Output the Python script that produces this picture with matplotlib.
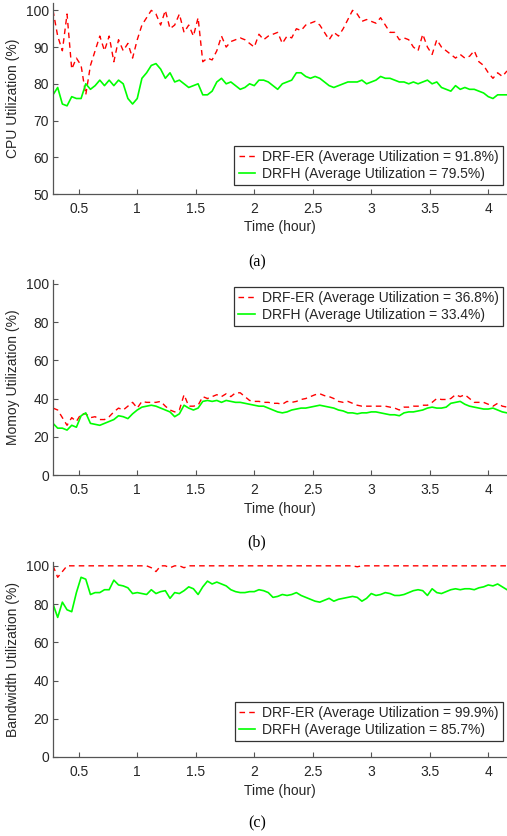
import numpy as np
import matplotlib
matplotlib.use("Agg")
import matplotlib.pyplot as plt

plt.rcParams['font.family'] = ['Liberation Sans', 'DejaVu Sans']

# sample times (hour), one value every 0.04 h from 0.28 to 4.16
t = np.round(np.arange(0.28, 4.1601, 0.04), 2)

cpu_drf_er = [100, 93, 89, 99, 84, 87, 85, 77, 85, 89, 93, 89, 93, 86, 92, 89, 91, 87, 92, 96,
              98, 100, 99, 96, 100, 95, 96, 99, 94, 96, 93, 98, 86, 87, 86.5, 89, 93, 90, 91.5, 92,
              92.5, 92, 91, 90, 93.5, 92, 93, 93.5, 94, 91, 93, 92.5, 95, 94.5, 96, 96.5, 97, 96, 94, 92,
              94, 93, 95, 97.5, 100, 99, 97, 97.5, 97, 96.5, 98, 96, 94, 94, 92, 92.5, 92, 90, 89, 93.5,
              90, 88, 92, 90, 89, 88, 87, 88, 87, 87.5, 89, 86, 85, 83, 81.5, 83, 82, 83.5]
cpu_drfh = [77, 79, 74.5, 74, 76.5, 76, 76, 80, 78.5, 79.5, 81, 79.5, 81, 79.5, 81, 80, 76, 74.5, 76, 81.5,
            83, 85, 85.5, 84, 81.5, 83, 80.5, 81, 80, 79, 79.5, 80, 77, 77, 78, 80.5, 81.5, 80, 80.5, 79.5,
            78.5, 79, 80, 79.5, 81, 81, 80.5, 79.5, 78.5, 80, 80.5, 81, 83, 83, 82, 81.5, 82, 81.5, 80.5, 79.5,
            79, 79.5, 80, 80.5, 80.5, 80.5, 81, 80, 80.5, 81, 82, 81.5, 81.5, 81, 80.5, 80.5, 80, 80.5, 80, 80.5,
            81, 80, 80.5, 79, 78.5, 78, 79.5, 78.5, 79, 78.5, 78.5, 78, 77.5, 76.5, 76, 77, 77, 77]

mem_drf_er = [35, 34, 30, 26, 30, 28, 32, 32, 30, 30.5, 29, 29, 30.5, 33, 35, 34, 36, 38, 35, 38.5,
              38, 38, 38, 38.5, 36, 34, 33, 34, 42, 36, 36, 36.5, 41, 40, 41, 42, 41, 42.5, 41, 43,
              43, 41, 39, 38.5, 38.5, 38, 38, 37.5, 37.5, 37, 38.5, 38, 38.5, 39.5, 40, 41, 42, 42.5, 41.5, 41,
              40, 38.5, 38, 38.5, 37.5, 36.5, 36, 36, 36, 36, 36, 36, 35.5, 35, 34, 35.5, 35.5, 36, 36, 36.5,
              36.5, 38, 40, 39.5, 39.5, 40, 42, 41, 42, 40, 38, 38, 38, 37, 36, 37.5, 36, 35.5]
mem_drfh = [27, 24.5, 24.5, 23.5, 26, 25, 31, 32.5, 27, 26.5, 26, 27, 28, 29, 31, 30.5, 29.5, 32, 34, 35.5,
            36, 36.5, 36, 35, 34, 33, 30.5, 32, 36.5, 35, 34, 35, 38.5, 39, 38.5, 39, 38, 39, 38.5, 38,
            38, 37.5, 37, 36.5, 36, 36, 35, 34, 33, 32.5, 33, 34, 34.5, 35, 35, 35.5, 36, 36.5, 36, 35.5,
            35, 34, 33.5, 32.5, 32.5, 32, 32.5, 32.5, 33, 33, 32.5, 32, 31.5, 31.5, 31, 32.5, 33, 33, 33.5, 34,
            35, 35.5, 35, 35, 35.5, 37.5, 38, 38.5, 37, 36, 35.5, 35, 34.5, 34.5, 35, 34, 33, 32.5]

bw_drf_er = [100, 94, 97, 100, 100, 100, 100, 100, 100, 100, 100, 100, 100, 100, 100, 100, 100, 100, 100, 100,
             100, 99, 97, 100, 100, 99, 100, 100, 99, 100, 100, 100, 100, 100, 100, 100, 100, 100, 100, 100,
             100, 100, 100, 100, 100, 100, 100, 100, 100, 100, 100, 100, 100, 100, 100, 100, 100, 100, 100, 100,
             100, 100, 100, 100, 100, 99.5, 100, 100, 100, 100, 100, 100, 100, 100, 100, 100, 100, 100, 100, 100,
             100, 100, 100, 100, 100, 100, 100, 100, 100, 100, 100, 100, 100, 100, 100, 100, 100, 100]
bw_drfh = [80, 73, 81, 77, 76, 86, 94, 93, 85, 86, 86, 87.5, 87.5, 92.5, 90, 89.5, 88.5, 85.5, 86, 85.5,
           85, 87.5, 85.5, 86.5, 87, 83, 86, 85.5, 87, 89, 88, 85, 89, 92, 90.5, 91.5, 90.5, 89.5, 87.5, 86.5,
           86, 86, 86.5, 86.5, 87.5, 87, 86, 83.5, 84, 85, 84.5, 85, 86, 84.5, 83.5, 82.5, 81.5, 81, 82, 83,
           81.5, 82.5, 83, 83.5, 84, 83.5, 81.5, 83, 85.5, 84.5, 85, 86, 85.5, 84.5, 84.5, 85, 86, 87, 87.5, 87,
           84.5, 88, 86, 85.5, 86.5, 87.5, 88, 87.5, 88, 88, 87.5, 88.5, 89, 90, 89.5, 90.5, 89, 87.5]

panels = [
    ("CPU Utilization (%)", cpu_drf_er, cpu_drfh, "91.8%", "79.5%", (50, 102), np.arange(50, 101, 10), "(a)"),
    ("Momoy Utilization (%)", mem_drf_er, mem_drfh, "36.8%", "33.4%", (0, 102), np.arange(0, 101, 20), "(b)"),
    ("Bandwidth Utilization (%)", bw_drf_er, bw_drfh, "99.9%", "85.7%", (0, 102), np.arange(0, 101, 20), "(c)"),
]

W, H = 507, 836
fig = plt.figure(figsize=(W / 100, H / 100), dpi=100)

# axes boxes in pixels: (left, top, bottom)
boxes = [(53, 3, 194), (53, 280, 475), (53, 562, 757)]
legend_pos = [(503, 185, 'lower right'), (503, 287, 'upper right'), (503, 741, 'lower right')]
caption_y = [262, 542, 823]

fs = 10
axis_col = '#262626'
for k, (ylab, red, green, avg_r, avg_g, ylim, yt, cap) in enumerate(panels):
    l, top, bot = boxes[k]
    ax = fig.add_axes([l / W, 1 - bot / H, (W - l) / W, (bot - top) / H])
    ax.plot(t, red, color='#ff0000', lw=1.0, ls=(0, (4, 3)),
            label=f"DRF-ER (Average Utilization = {avg_r})")
    ax.plot(t, green, color='#00ff00', lw=1.2,
            label=f"DRFH (Average Utilization = {avg_g})")
    ax.set_xlim(0.28, 4.16)
    ax.set_ylim(*ylim)
    ax.set_yticks(yt)
    ax.set_xticks([0.5, 1, 1.5, 2, 2.5, 3, 3.5, 4])
    ax.set_xticklabels(['0.5', '1', '1.5', '2', '2.5', '3', '3.5', '4'])
    for s in ['top', 'right']:
        ax.spines[s].set_visible(False)
    for s in ['left', 'bottom']:
        ax.spines[s].set_color('#555555')
        ax.spines[s].set_linewidth(0.9)
    ax.tick_params(direction='in', length=3.5, width=0.8, color='#555555',
                   labelsize=fs, labelcolor=axis_col)
    ax.tick_params(axis='x', pad=6)
    ax.tick_params(axis='y', pad=3)
    ax.set_ylabel(ylab, fontsize=fs, color=axis_col, labelpad=4)
    ax.set_xlabel("Time (hour)", fontsize=fs, color=axis_col, labelpad=3)

    lx, ly, loc = legend_pos[k]
    leg = ax.legend(loc=loc, bbox_to_anchor=(lx / W, 1 - ly / H), bbox_transform=fig.transFigure,
                    fontsize=fs, fancybox=False, framealpha=1, edgecolor='#333333',
                    handlelength=1.2, handletextpad=0.5, labelspacing=0.2, borderpad=0.3,
                    borderaxespad=0)
    leg.get_frame().set_linewidth(0.9)
    for txt in leg.get_texts():
        txt.set_color(axis_col)

    fig.text(257 / W, 1 - caption_y[k] / H, cap, ha='center', va='center',
             fontsize=11.5, family='Liberation Serif')

fig.savefig("out.png", dpi=100)
